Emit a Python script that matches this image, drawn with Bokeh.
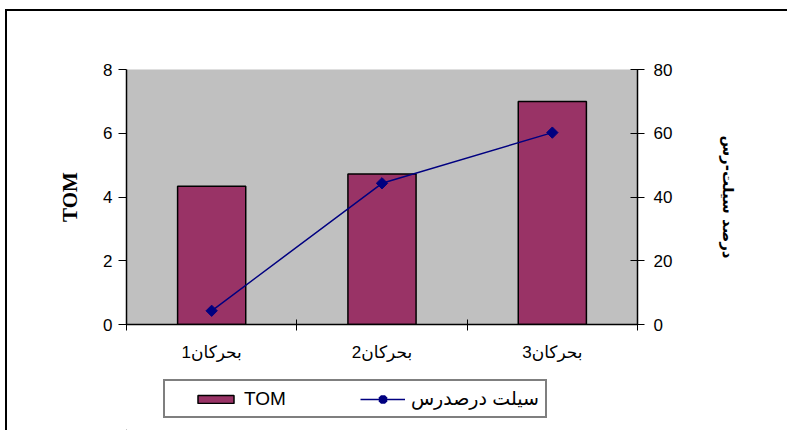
import numpy as np
from bokeh.plotting import figure
from bokeh.layouts import column
from bokeh.models import (Range1d, LinearAxis, FixedTicker, Legend, LegendItem)
from bokeh.embed import file_html
from bokeh.resources import INLINE

categories = ["بحرکان1", "بحرکان2", "بحرکان3"]
tom_values = [4.34, 4.72, 7.0]
silt_clay_pct = [4.3, 44.3, 60.2]
left_ticks = [0, 2, 4, 6, 8]
right_ticks = [0, 20, 40, 60, 80]
series_tom = "TOM"
series_pct = "سیلت درصدرس"
right_title = "درصد سیلت-رس"

n = len(categories)
centers = list(np.arange(n) + 0.5)
bounds = list(np.arange(n + 1).astype(float))

FONT = "Liberation Sans, DejaVu Sans"
BAR_STYLE = dict(fill_color="#993366", line_color="black", line_width=1.5)
LINE_STYLE = dict(line_color="#000080", line_width=1.5)
MARK_STYLE = dict(marker="square", angle=np.pi / 4, size=8,
                  fill_color="#000080", line_color="#000080")

p = figure(width=780, height=359, output_backend="svg", toolbar_location=None,
           x_range=Range1d(0, n), y_range=Range1d(0, 8),
           min_border_left=119, min_border_top=58, min_border_right=150,
           min_border_bottom=46, frame_width=511, frame_height=255)
p.background_fill_color = "#C0C0C0"
p.border_fill_color = "white"
p.outline_line_color = None
p.grid.visible = False

p.extra_y_ranges = {"pct": Range1d(0, 80)}

p.vbar(x=centers, top=tom_values, width=0.4, **BAR_STYLE)
p.line(x=centers, y=silt_clay_pct, y_range_name="pct", **LINE_STYLE)
p.scatter(x=centers, y=silt_clay_pct, y_range_name="pct", **MARK_STYLE)

# bottom axis
xa = p.xaxis[0]
xa.ticker = FixedTicker(ticks=centers, minor_ticks=bounds)
xa.major_label_overrides = {c: lab for c, lab in zip(centers, categories)}
xa.major_tick_line_color = None
xa.minor_tick_in = 5
xa.minor_tick_out = 6
xa.minor_tick_line_color = "black"
xa.axis_line_color = "black"
xa.axis_line_width = 1.5
xa.major_label_standoff = 12
xa.major_label_text_font = FONT
xa.major_label_text_font_size = "17px"
xa.major_label_text_color = "black"

# left axis
ya = p.yaxis[0]
ya.ticker = FixedTicker(ticks=left_ticks)
ya.minor_tick_line_color = None
ya.major_tick_in = 0
ya.major_tick_out = 8
ya.axis_line_width = 1.5
ya.major_label_standoff = 6
ya.major_label_text_font = FONT
ya.major_label_text_font_size = "17px"
ya.major_label_text_color = "black"
ya.axis_label = series_tom
ya.axis_label_text_font = "Liberation Serif"
ya.axis_label_text_font_style = "bold"
ya.axis_label_text_font_size = "21px"
ya.axis_label_standoff = 18
ya.axis_label_text_color = "black"

# right axis
ra = LinearAxis(y_range_name="pct", ticker=FixedTicker(ticks=right_ticks))
ra.minor_tick_line_color = None
ra.major_tick_in = 7
ra.major_tick_out = 7
ra.axis_line_width = 1.5
ra.major_label_standoff = 9
ra.major_label_text_font = FONT
ra.major_label_text_font_size = "17px"
ra.major_label_text_color = "black"
ra.axis_label = right_title
ra.axis_label_text_font = "DejaVu Sans"
ra.axis_label_text_font_style = "bold"
ra.axis_label_text_font_size = "15px"
ra.axis_label_standoff = 44
ra.axis_label_text_color = "black"
p.add_layout(ra, "right")

# legend strip (separate figure so the legend box is not clipped);
# its renderers reuse the data but lie far outside the strip's visible range
q = figure(width=780, height=60, output_backend="svg", toolbar_location=None,
           x_range=Range1d(100, 101), y_range=Range1d(500, 501),
           x_axis_type=None, y_axis_type=None, min_border=0)
q.outline_line_color = None
q.grid.visible = False
q.background_fill_color = "white"
q.border_fill_color = "white"
lb = q.vbar(x=centers, top=tom_values, width=0.4, **BAR_STYLE)
ll = q.line(x=centers, y=silt_clay_pct, **LINE_STYLE)
lm = q.scatter(x=centers, y=silt_clay_pct, marker="square", angle=np.pi / 4,
               size=4, line_width=4.5, fill_color="#000080", line_color="#000080")

legend = Legend(items=[LegendItem(label=series_tom, renderers=[lb]),
                       LegendItem(label=series_pct, renderers=[ll, lm])],
                orientation="horizontal", location=(37, 12),
                glyph_width=45, glyph_height=10, label_standoff=6, spacing=74,
                padding=6, margin=0, title=" ", title_location="left",
                title_standoff=7,
                border_line_color="black", border_line_width=2,
                background_fill_color="white", background_fill_alpha=1,
                label_text_font=FONT, label_text_font_size="19px",
                label_text_color="black")
q.add_layout(legend, "center")

layout = column(p, q, spacing=0)
layout.styles = {"border-left": "2px solid black", "border-top": "2px solid black",
                 "margin-left": "5px", "margin-top": "9px"}

open("out.html", "w").write(file_html(layout, INLINE))
